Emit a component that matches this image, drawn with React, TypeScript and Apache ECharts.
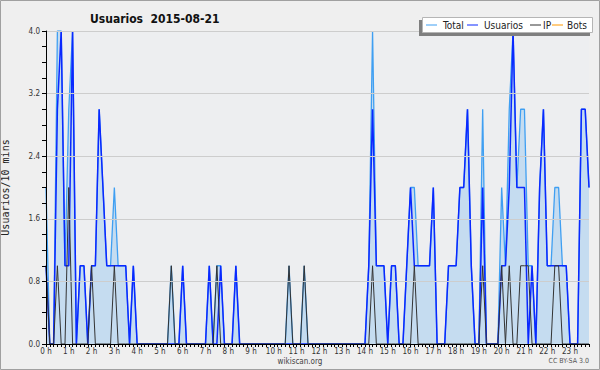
import React, { useEffect, useRef } from "react";
import * as echarts from "echarts";

// 10-minute slots, 144 per day (index 0 = 00:00, 143 = 23:50)
const usuarios = [
  1, 0, 0, 3, 4, 1, 1, 4, 0, 1, 1, 0, 1, 1, 3, 2, 1, 1, 1, 1, 1, 1, 0, 1,
  0, 0, 0, 0, 0, 0, 0, 0, 0, 0, 0, 0, 1, 0, 0, 0, 0, 0, 0, 1, 0, 0, 1, 0,
  0, 0, 1, 0, 0, 0, 0, 0, 0, 0, 0, 0, 0, 0, 0, 0, 0, 0, 0, 0, 0, 0, 0, 0,
  0, 0, 0, 0, 0, 0, 0, 0, 0, 0, 0, 0, 0, 1, 3, 1, 1, 1, 0, 1, 1, 0, 0, 1,
  2, 1, 1, 1, 1, 1, 2, 0, 0, 0, 1, 1, 1, 2, 2, 3, 1, 0, 0, 2, 0, 0, 0, 0,
  1, 1, 2, 4, 2, 2, 2, 0, 1, 0, 2, 3, 1, 1, 1, 1, 1, 1, 0, 0, 0, 3, 3, 2,
];
const ip = [
  1, 0, 0, 1, 0, 0, 2, 0, 0, 0, 0, 0, 1, 0, 0, 0, 0, 0, 1, 0, 0, 0, 0, 0,
  0, 0, 0, 0, 0, 0, 0, 0, 0, 1, 0, 0, 0, 0, 0, 0, 0, 0, 0, 0, 0, 1, 0, 0,
  0, 0, 0, 0, 0, 0, 0, 0, 0, 0, 0, 0, 0, 0, 0, 0, 1, 0, 0, 0, 1, 0, 0, 0,
  0, 0, 0, 0, 0, 0, 0, 0, 0, 0, 0, 0, 0, 0, 1, 0, 0, 0, 0, 0, 0, 0, 0, 0,
  0, 1, 0, 0, 0, 0, 0, 0, 0, 0, 0, 0, 0, 0, 0, 0, 0, 0, 0, 1, 0, 0, 0, 0,
  1, 0, 1, 0, 0, 1, 1, 1, 0, 0, 0, 0, 0, 0, 1, 1, 0, 0, 0, 0, 0, 0, 0, 0,
];
const total = [
  2, 0, 0, 4, 4, 1, 3, 4, 0, 1, 1, 0, 1, 1, 3, 2, 1, 1, 2, 1, 1, 1, 0, 1,
  0, 0, 0, 0, 0, 0, 0, 0, 0, 1, 0, 0, 1, 0, 0, 0, 0, 0, 0, 1, 0, 1, 1, 0,
  0, 0, 1, 0, 0, 0, 0, 0, 0, 0, 0, 0, 0, 0, 0, 0, 1, 0, 0, 0, 1, 0, 0, 0,
  0, 0, 0, 0, 0, 0, 0, 0, 0, 0, 0, 0, 0, 1, 4, 1, 1, 1, 0, 1, 1, 0, 0, 1,
  2, 2, 1, 1, 1, 1, 2, 0, 0, 0, 1, 1, 1, 2, 2, 3, 1, 0, 0, 3, 0, 0, 0, 0,
  2, 1, 3, 4, 2, 3, 3, 1, 1, 0, 2, 3, 1, 1, 2, 2, 1, 1, 0, 0, 0, 3, 3, 2,
];
const bots = [
  0, 0, 0, 0, 0, 0, 0, 0, 0, 0, 0, 0, 0, 0, 0, 0, 0, 0, 0, 0, 0, 0, 0, 0,
  0, 0, 0, 0, 0, 0, 0, 0, 0, 0, 0, 0, 0, 0, 0, 0, 0, 0, 0, 0, 0, 0, 0, 0,
  0, 0, 0, 0, 0, 0, 0, 0, 0, 0, 0, 0, 0, 0, 0, 0, 0, 0, 0, 0, 0, 0, 0, 0,
  0, 0, 0, 0, 0, 0, 0, 0, 0, 0, 0, 0, 0, 0, 0, 0, 0, 0, 0, 0, 0, 0, 0, 0,
  0, 0, 0, 0, 0, 0, 0, 0, 0, 0, 0, 0, 0, 0, 0, 0, 0, 0, 0, 0, 0, 0, 0, 0,
  0, 0, 0, 0, 0, 0, 0, 0, 0, 0, 0, 0, 0, 0, 0, 0, 0, 0, 0, 0, 0, 0, 0, 0,
];
const hourLabels = [
  "0 h", "1 h", "2 h", "3 h", "4 h", "5 h", "6 h", "7 h", "8 h", "9 h", "10 h", "11 h",
  "12 h", "13 h", "14 h", "15 h", "16 h", "17 h", "18 h", "19 h", "20 h", "21 h", "22 h", "23 h",
];
const legendNames = ["Total", "Usuarios", "IP", "Bots"];
const colors = { total: "#3f9ff2", usuarios: "#0a28ff", ip: "#333333", bots: "#ff9900" };

const FONT = "'DejaVu Sans Condensed', 'DejaVu Sans', sans-serif";

const toPairs = (arr: number[]) => arr.map((v, i) => [i, v]);

export default function App() {
  const ref = useRef<HTMLDivElement>(null);
  useEffect(() => {
    document.body.style.margin = "0";
    const chart = echarts.init(ref.current!, undefined, { renderer: "svg" });
    const legendY = 25;
    const legendItems = [
      { name: legendNames[0], color: colors.total, lx: 426, tx: 443 },
      { name: legendNames[1], color: colors.usuarios, lx: 467, tx: 484 },
      { name: legendNames[2], color: colors.ip, lx: 530, tx: 543 },
      { name: legendNames[3], color: colors.bots, lx: 552, tx: 567 },
    ];
    const graphics: any[] = [
      { type: "rect", shape: { x: 419, y: 20, width: 171, height: 16 }, style: { fill: "#7f7f7f" }, z: 100 },
      { type: "rect", shape: { x: 422.5, y: 17.5, width: 170, height: 15 }, style: { fill: "#ffffff", stroke: "#b5b5b5", lineWidth: 1 }, z: 101 },
    ];
    legendItems.forEach((it) => {
      graphics.push({ type: "line", shape: { x1: it.lx, y1: legendY, x2: it.lx + 11, y2: legendY }, style: { stroke: it.color, lineWidth: 1 }, z: 102 });
      graphics.push({ type: "text", x: it.tx, y: legendY, style: { text: it.name, fill: "#222", fontSize: 10, fontFamily: FONT, textVerticalAlign: "middle", textAlign: "left" }, z: 102 });
    });
    graphics.push({ type: "text", x: 300, y: 361, style: { text: "wikiscan.org", fill: "#444", fontSize: 8, fontFamily: FONT, textAlign: "center", textVerticalAlign: "middle" } });
    graphics.push({ type: "text", x: 589, y: 361, style: { text: "CC BY-SA 3.0", fill: "#555", fontSize: 7, fontFamily: FONT, textAlign: "right", textVerticalAlign: "middle" } });
    graphics.push({ type: "rect", shape: { x: 0.5, y: 0.5, width: 599, height: 369 }, style: { fill: "none", stroke: "#a0a0a0", lineWidth: 1 }, z: 200 });

    chart.setOption({
      animation: false,
      backgroundColor: "#efefef",
      textStyle: { fontFamily: FONT },
      title: {
        text: "Usuarios  2015-08-21",
        left: 85,
        top: 8,
        textStyle: { fontSize: 12, fontWeight: "bold", color: "#111", fontFamily: FONT },
      },
      grid: {
        left: 46, right: 11, top: 31, bottom: 26,
        show: true, backgroundColor: "#edeef0", borderWidth: 0,
        containLabel: false, outerBoundsMode: "none",
      },
      xAxis: {
        type: "value", min: 0, max: 143, interval: 1, z: 10,
        axisLine: { lineStyle: { color: "#000", width: 1 } },
        axisTick: { show: true, length: 3, lineStyle: { color: "#000" } },
        axisLabel: {
          fontSize: 8, color: "#333", margin: 3, fontFamily: FONT,
          formatter: (v: number) => (v % 6 === 0 ? hourLabels[v / 6] : ""),
        },
        splitLine: { show: false },
      },
      yAxis: {
        type: "value", min: 0, max: 4, interval: 0.8, z: 10,
        name: "Usuarios/10 mins", nameLocation: "middle", nameGap: 36, nameRotate: 90,
        nameTextStyle: { fontFamily: "'DejaVu Sans Mono', monospace", fontSize: 10, color: "#222" },
        axisLine: { show: true, lineStyle: { color: "#000", width: 1 } },
        axisTick: { show: true, length: 4, lineStyle: { color: "#000" } },
        minorTick: { show: true, splitNumber: 4, length: 4, lineStyle: { color: "#000" } },
        axisLabel: { fontSize: 8, color: "#333", margin: 6, fontFamily: FONT, formatter: (v: number) => v.toFixed(1) },
        splitLine: { show: true, lineStyle: { color: "#cdcdcd", width: 1 } },
      },
      series: [
        { type: "line", name: "Bots", data: toPairs(bots), symbol: "none", lineStyle: { color: colors.bots, width: 1 }, z: 1 },
        {
          type: "line", name: "Total", data: toPairs(total), symbol: "none",
          lineStyle: { color: colors.total, width: 1.3 },
          areaStyle: { color: "#c5dcf0", opacity: 1 }, z: 2,
        },
        { type: "line", name: "Usuarios", data: toPairs(usuarios), symbol: "none", lineStyle: { color: colors.usuarios, width: 1.5 }, z: 3 },
        { type: "line", name: "IP", data: toPairs(ip), symbol: "none", lineStyle: { color: colors.ip, width: 1 }, z: 4 },
      ],
      graphic: graphics,
    });
    return () => chart.dispose();
  }, []);
  return <div ref={ref} style={{ width: 600, height: 370 }} />;
}
